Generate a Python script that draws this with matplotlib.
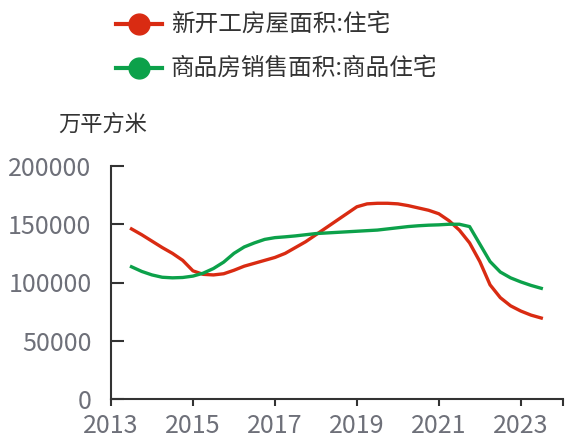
import matplotlib
matplotlib.use("Agg")
from matplotlib import pyplot as plt

plt.rcParams['font.family'] = ['Noto Sans CJK SC', 'DejaVu Sans']

# quarterly readings, 2013.5 .. 2023.5
years = [2013.5 + 0.25 * i for i in range(41)]
new_start = [146, 141, 135.5, 130, 125, 119, 110, 107, 106.5, 107.5,
             110.5, 114, 116.5, 119, 121.5, 125, 130, 135, 141, 147,
             153, 159, 165, 167.5, 168, 168, 167.5, 166, 164, 162,
             159, 153, 145, 134, 118, 98, 87, 80, 75.5, 72, 69.5]
sales = [113.5, 109.5, 106.5, 104.5, 104, 104.3, 105.5, 108, 112, 117.5,
         125, 130.5, 134, 137, 138.5, 139.2, 140, 141, 142, 142.5,
         143, 143.5, 144, 144.5, 145, 146, 147, 148, 148.7, 149.2,
         149.5, 150, 150, 148, 133, 118, 109, 104, 100.5, 97.5, 95]
new_start = [v * 1000 for v in new_start]
sales = [v * 1000 for v in sales]

labels = ['新开工房屋面积:住宅', '商品房销售面积:商品住宅']
colors = ['#d92b12', '#0ca14a']
xticks = [2013, 2015, 2017, 2019, 2021, 2023]
yticks = [0, 50000, 100000, 150000, 200000]

fig = plt.figure(figsize=(5.74, 4.41), dpi=100)
ax = fig.add_axes([111/574, 42/441, 452/574, 233/441])

ax.plot(years, new_start, '-', color=colors[0], lw=2.4, solid_joinstyle='round')
ax.plot(years, sales, '-', color=colors[1], lw=2.4, solid_joinstyle='round')

ax.set_xlim(2013, 2024.03)
ax.set_ylim(0, 200000)
ax.set_xticks(xticks + [2024.03])
ax.set_xticklabels([str(t) for t in xticks] + [''])
ax.set_yticks(yticks)
ax.set_yticklabels([str(t) for t in yticks])

for s in ['top', 'right']:
    ax.spines[s].set_visible(False)
for s in ['left', 'bottom']:
    ax.spines[s].set_color('#333333')
    ax.spines[s].set_linewidth(1.5)
ax.tick_params(axis='x', direction='out', length=5, width=1.5, color='#333333',
               labelsize=18, labelcolor='#6e7079', pad=5)
ax.tick_params(axis='y', direction='in', length=9, width=1.5, color='#333333',
               labelsize=18, labelcolor='#6e7079', pad=14)

fig.text(58/574, 1 - 125/441, '万平方米', fontsize=16, color='#333333',
         va='center', ha='left')

# legend
for i, lab in enumerate(labels):
    yy = 1 - (24 + i * 44) / 441
    fig.add_artist(plt.Line2D([116/574, 162/574], [yy, yy], color=colors[i], lw=3))
    fig.add_artist(plt.Line2D([139/574], [yy], marker='o', markersize=15,
                              color=colors[i]))
    fig.text(171/574, yy, lab, fontsize=17, color='#333333', va='center', ha='left')

fig.savefig('out.png', dpi=100)
